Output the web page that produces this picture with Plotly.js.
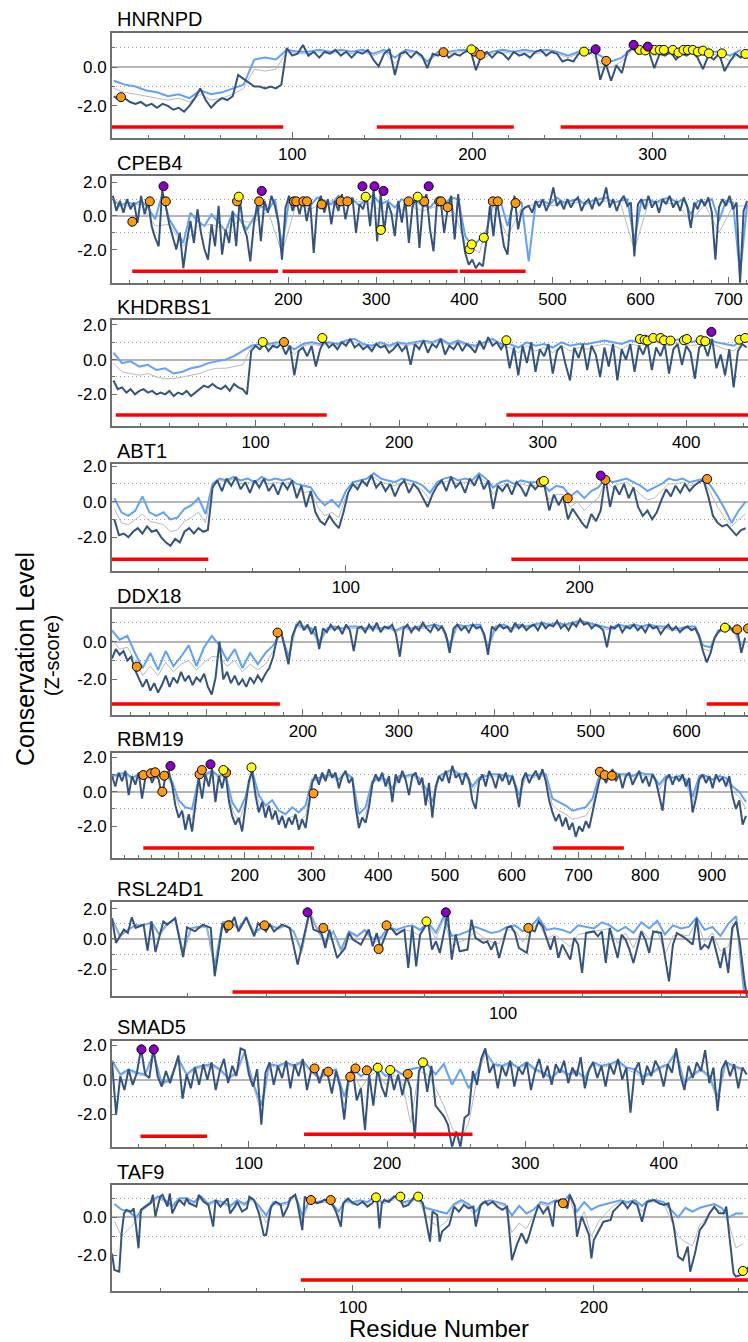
<!DOCTYPE html>
<html><head><meta charset="utf-8">
<script src="https://cdn.plot.ly/plotly-3.0.1.min.js"></script>
<style>html,body{margin:0;padding:0;background:#fff}#chart{width:748px;height:1342px}</style>
</head><body><div id="chart"></div>
<script>
// ================= DATA =================
const proteinNames = ['HNRNPD','CPEB4','KHDRBS1','ABT1','DDX18','RBM19','RSL24D1','SMAD5','TAF9'];
const residueRanges = [[0,353],[0,722],[0,443],[0,272],[1,664],[1,954],[1,162],[1,461],[0,264]];
const zRanges = [[-3.65,1.79],[-3.97,2.38],[-3.81,2.27],[-3.9,2.11],[-3.89,1.73],[-3.85,2.25],[-3.78,2.44],[-3.87,2.25],[-3.86,1.7]];
const xTickVals = [[100,200,300],[100,200,300,400,500,600,700],[100,200,300,400],[100,200],[100,200,300,400,500,600],[100,200,300,400,500,600,700,800,900],[100],[100,200,300,400],[100,200]];
const xTickText = [['100','200','300'],['','200','300','400','500','600','700'],['100','200','300','400'],['100','200'],['','200','300','400','500','600'],['','200','300','400','500','600','700','800','900'],['100'],['100','200','300','400'],['100','200']];
const yTickVals = [-2,0,2];
const yTickText = ['-2.0','0.0','2.0'];
// sampling of the series: [first residue, residue step]
const darkSampling  = [[1,3],[1,4],[1,3],[1,2],[1,4],[1,5],null,[1,3],null];
const lightSampling = [[1,6],[1,8],[1,6],[1,3],[1,8],[1,10],[1,2],[1,6],[1,3]];
const graySampling  = [[1,6],[1,16],[1,6],[1,3],[1,8],[1,10],[1,2],[1,6],[1,3]];

// ---- HNRNPD ----
const hnrnpdDark = [-1.5,-1.7,-1.6,-1.8,-1.9,-1.8,-2.0,-1.9,-2.1,-1.9,
 -2.0,-2.2,-2.1,-2.3,-2.0,-1.6,-1.1,-1.7,-2.1,-1.8,
 -1.6,-1.7,-1.5,-0.4,-0.6,-0.8,-1.0,-1.0,-1.1,-1.0,
 -1.1,-0.9,1.0,0.6,0.7,1.15,0.6,0.8,0.5,0.8,
 0.7,0.9,0.6,0.8,0.5,0.8,0.7,0.9,0.4,0.05,
 0.7,0.95,-0.4,0.7,0.8,0.5,0.8,0.6,-0.05,0.7,
 0.6,0.8,0.5,0.7,0.6,0.8,0.9,-0.15,0.6,0.8,
 0.5,0.8,0.7,0.4,0.8,0.6,0.7,0.5,0.8,0.9,
 0.6,0.8,0.7,0.3,0.4,0.3,0.7,0.8,0.7,0.9,
 -0.65,0.2,-0.7,0.1,-0.3,0.8,1.0,0.7,0.9,0.8,
 -0.05,0.7,0.6,0.8,0.4,0.7,0.6,0.8,0.5,-0.1,
 0.6,0.4,0.7,-0.2,0.3,0.7,0.5,0.8];
const hnrnpdLight = [-0.7,-0.9,-1.0,-1.2,-1.3,-1.5,-1.4,-1.6,-1.2,-1.4,
 -1.3,-1.1,-0.9,0.4,0.5,0.4,0.9,0.8,0.8,0.9,
 0.8,0.9,0.8,0.9,0.7,0.9,0.5,0.9,0.8,0.3,
 0.8,0.8,0.9,0.9,0.6,0.8,0.9,0.8,0.9,0.8,
 0.9,0.8,0.6,0.8,0.9,0.6,0.3,0.5,1.0,0.9,
 0.8,0.8,0.7,0.9,0.8,0.8,0.8,0.6,0.9];
const hnrnpdGray = [-1.1,-1.3,-1.4,-1.5,-1.6,-1.7,-1.6,-1.8,-1.4,-1.7,
 -1.6,-1.4,-1.1,-0.1,-0.2,-0.1,0.8,0.7,0.7,0.8,
 0.7,0.8,0.7,0.8,0.6,0.8,0.2,0.8,0.7,0.2,
 0.7,0.7,0.8,0.8,0.4,0.7,0.8,0.7,0.8,0.7,
 0.8,0.7,0.5,0.7,0.8,0.2,0.0,0.3,0.9,0.8,
 0.6,0.7,0.6,0.8,0.7,0.6,0.7,0.3,0.8];
const hnrnpdOrange = [[5,-1.55],[184,0.78],[201.3,0.81],[204.5,0.64],[274.3,0.33]];
const hnrnpdYellow = [[199.5,0.93],[262,0.81],[292.8,0.9],[296,0.87],[301.1,0.9],[304,0.9],[306.3,0.9],[311.3,0.9],[314.4,0.76],[317.2,0.9],[319.6,0.9],[322.4,0.9],[325.2,0.81],[328,0.86],[331.3,0.72],[338.5,0.72],[351.6,0.69]];
const hnrnpdPurple = [[268.4,0.93],[289.5,1.16],[297.4,1.07]];
const hnrnpdDomains = [[0,95,-3.09],[147,223,-3.09],[249,353,-3.09]];

// ---- CPEB4 ----
const cpeb4Dark = [1.2,0.3,0.9,0.2,1.0,0.4,0.8,-0.4,1.2,0.1,
 0.9,-0.6,-1.3,-1.8,1.5,0.6,-0.5,-1.2,-2.0,-1.0,
 -3.1,-1.5,-0.3,-1.6,0.4,-1.0,-2.0,-2.6,-0.5,-1.8,
 0.6,-2.3,-0.8,-1.6,0.3,-1.8,1.0,-0.6,-1.2,-2.7,
 -0.5,0.8,-1.5,0.9,0.2,1.2,0.6,-0.4,-2.6,0.5,
 1.2,0.3,0.9,0.1,1.1,-0.3,0.8,-2.2,0.6,1.2,
 0.2,1.0,-0.5,0.9,0.3,1.3,-0.2,0.8,1.1,-1.0,
 0.7,0.4,1.2,-0.6,1.6,-1.5,1.3,-0.9,0.8,0.2,
 -1.2,0.9,-0.4,1.0,-1.6,0.5,1.1,-1.9,0.7,1.3,
 -0.8,-2.1,0.9,1.0,-1.0,0.4,1.2,-1.4,1.3,-0.8,
 -2.2,-2.9,-2.6,-3.1,-2.8,-3.0,-1.5,0.6,-1.2,0.9,
 -0.5,-1.8,-2.3,0.2,1.2,-0.8,0.3,0.5,
 0.6,0.2,0.9,0.5,1.0,0.3,0.8,1.7,0.6,0.9,
 0.4,1.0,0.5,0.9,1.1,0.3,0.8,1.0,0.4,1.1,
 0.6,0.9,1.7,0.5,1.0,0.3,0.9,1.2,0.6,0.8,
 -2.4,0.7,1.0,0.4,1.2,0.5,0.9,0.2,1.0,0.7,
 1.2,0.5,0.9,0.3,1.1,0.6,-0.7,0.8,0.4,1.0,
 0.6,1.1,0.2,-2.6,0.5,1.0,0.6,1.2,0.4,0.8,
 -4.0,0.3,0.9];
const cpeb4Light = [1.0,0.6,0.8,0.7,0.9,0.5,-0.2,1.3,-0.2,-0.9,
 -1.6,0.2,-0.3,-0.6,0.1,-0.4,-0.9,0.2,-0.2,-0.8,
 -0.1,0.6,0.3,1.0,-1.8,0.9,0.8,1.0,0.6,1.1,
 0.9,0.7,1.2,0.9,1.0,0.6,1.1,1.2,0.7,0.9,
 0.5,1.0,0.8,0.9,0.6,0.5,1.0,0.7,1.1,1.0,
 -1.2,-1.8,-1.4,-0.9,0.8,0.9,-0.6,1.0,0.8,-2.7,
 0.8,0.9,0.7,1.1,0.8,0.9,1.0,0.7,0.9,1.0,
 1.1,0.8,0.9,1.0,-1.5,0.9,1.0,0.8,1.0,1.1,
 0.8,1.0,0.1,0.9,0.8,1.0,-0.3,0.9,0.8,-3.5,
 0.7];
const cpeb4Gray = [0.8,0.6,0.7,-0.6,-0.5,-1.8,-0.6,-0.5,-0.8,-0.3,
 -0.4,0.3,-2.2,0.7,0.4,0.8,1.0,0.8,0.9,0.3,
 0.1,0.6,0.3,0.6,0.7,-1.6,-2.2,0.6,-1.2,0.5,
 0.7,0.6,0.7,0.8,0.7,0.9,0.8,-2.0,0.8,0.8,
 0.7,-0.3,0.7,-1.0,0.6,0.6];
const cpeb4Orange = [[23.1,-0.34],[42.9,0.87],[61.1,0.87],[142,0.87],[167,0.87],[206.5,0.87],[209.2,0.87],[217.2,0.87],[221.3,0.87],[238,0.69],[259.6,0.87],[267.2,0.87],[336.7,0.87],[354.5,0.87],[371.6,0.87],[373.5,0.87],[381.1,0.52],[432.3,0.87],[438,0.87],[458.1,0.77]];
const cpeb4Yellow = [[143.9,1.15],[288,1.15],[305.2,-0.83],[347,1.15],[405.8,-1.98],[408.4,-1.69],[422.1,-1.29]];
const cpeb4Purple = [[58.5,1.77],[170,1.49],[284.3,1.77],[298,1.77],[308.2,1.49],[359.5,1.77]];
const cpeb4Domains = [[23,188.5,-3.29],[193.5,392.5,-3.29],[395,469.5,-3.29]];

// ---- KHDRBS1 ----
const khdrbs1Dark = [-1.2,-1.7,-1.6,-1.9,-1.7,-2.0,-1.8,-1.7,-1.9,-1.8,
 -2.0,-1.9,-2.0,-1.8,-2.1,-1.9,-2.0,-1.8,-2.1,-1.9,
 -1.7,-1.5,-1.6,-1.4,-1.6,-1.7,-1.5,-1.8,-1.4,-1.6,
 -1.7,-2.0,0.5,0.8,0.6,0.9,0.5,0.8,0.7,0.9,
 0.3,0.8,-0.9,0.5,0.7,0.2,0.8,-0.4,0.6,1.1,
 0.7,0.9,0.6,1.0,0.8,1.2,0.7,0.9,0.6,0.8,
 0.5,0.9,0.7,0.8,0.4,0.6,0.9,0.5,0.8,-0.3,
 0.9,0.6,1.1,0.4,0.9,0.7,1.2,0.3,0.8,0.6,
 1.0,0.5,0.9,0.7,0.4,1.1,0.6,1.3,0.8,1.0,
 0.6,1.0,-0.5,0.7,-0.9,0.8,-0.2,1.0,-0.7,0.6,
 0.2,0.9,-0.8,0.5,0.8,-0.3,-1.2,0.7,0.1,0.9,
 -0.6,0.8,0.3,-1.0,0.7,-0.4,0.9,-1.2,0.6,0.0,
 0.9,-0.7,0.8,0.3,1.0,-0.6,0.7,0.2,0.9,-0.8,
 0.6,0.9,-0.3,0.8,0.4,-1.1,0.7,0.9,0.2,1.2,
 -0.5,0.3,-0.9,0.6,-1.6,0.5,0.9,0.7];
const khdrbs1Light = [0.4,-0.2,-0.1,-0.4,-0.3,-0.6,-0.5,-0.8,-0.7,-0.5,
 -0.4,-0.2,-0.1,0.0,0.2,0.5,0.8,0.9,0.9,1.0,
 0.9,0.6,0.9,1.0,0.9,1.0,0.9,1.1,1.2,0.9,
 0.8,1.0,0.8,1.0,0.9,1.0,1.1,1.0,1.2,0.9,
 1.1,0.9,0.8,1.0,1.2,0.9,0.9,0.7,1.0,0.8,
 0.9,0.7,1.0,0.8,0.9,0.9,1.0,1.1,1.0,0.9,
 1.1,1.0,1.1,1.2,1.0,1.1,1.2,1.0,1.1,1.2,
 1.0,0.9,0.8,1.1];
const khdrbs1Gray = [-0.2,-0.7,-0.8,-0.9,-0.8,-1.0,-1.1,-1.1,-1.0,-0.9,
 -0.8,-0.6,-0.5,-0.5,-0.4,-0.3,0.7,0.8,0.8,0.9,
 0.8,0.3,0.8,0.9,0.8,0.9,0.8,1.0,1.0,0.8,
 0.7,0.9,0.7,0.9,0.8,0.9,1.0,0.9,1.1,0.8,
 1.0,0.8,0.7,0.9,1.1,0.8,0.7,0.4,0.8,0.5,
 0.7,0.4,0.8,0.5,0.7,0.6,0.8,0.9,0.8,0.6,
 0.9,0.8,0.9,1.0,0.8,0.9,1.0,0.8,0.9,1.0,
 0.8,0.6,0.5,0.9];
const khdrbs1Orange = [[119.8,1.02]];
const khdrbs1Yellow = [[105,1.02],[146.5,1.25],[274.7,1.12],[367.7,1.19],[371,1.15],[373,1.1],[377,1.25],[382,1.25],[384.5,1.12],[389,1.1],[398.4,1.12],[400.4,1.19],[410,1.12],[413.2,1.06],[437,1.15],[441,1.25]];
const khdrbs1Purple = [[417.5,1.6]];
const khdrbs1Domains = [[2.7,149.5,-3.19],[274.7,443,-3.19]];

// ---- ABT1 ----
const abt1Dark = [-1.0,-1.9,-1.8,-2.0,-1.7,-1.5,-1.8,-1.4,-1.7,-1.6,
 -2.0,-2.3,-2.5,-2.1,-2.3,-1.7,-1.5,-1.8,-1.5,-1.7,
 -1.6,0.8,1.2,0.6,1.3,0.9,1.4,0.7,1.1,0.5,
 1.2,0.8,1.3,0.6,1.0,0.4,1.1,0.7,1.2,0.2,
 0.9,-0.3,0.6,-0.6,-1.1,-1.3,-0.8,-1.2,-1.5,-0.6,
 0.5,1.0,0.7,1.2,0.9,1.5,0.8,1.1,0.6,1.0,
 0.3,0.9,1.2,0.5,1.0,0.7,0.2,-0.3,0.4,0.9,
 1.2,0.6,1.4,0.8,1.1,0.5,1.3,0.9,1.5,0.7,
 1.2,-0.4,0.9,0.6,1.0,0.4,1.1,0.8,0.3,1.0,
 0.7,1.0,0.9,-0.5,0.4,-0.2,0.3,-1.0,-0.4,-0.8,
 -1.2,-1.5,-0.7,-1.1,-0.5,1.4,-0.3,0.9,0.4,1.0,
 0.2,0.8,-0.3,-0.8,-0.5,-1.0,-0.6,0.1,0.7,0.3,
 0.9,0.5,1.0,0.6,0.9,1.1,1.2,0.3,-0.8,-1.2,
 -1.4,-1.3,-1.6,-1.9,-1.6,-1.5];
const abt1Light = [0.2,-0.6,-0.8,-0.5,0.3,-0.6,-0.8,-0.6,-1.0,-0.9,
 -0.4,-0.2,0.2,-0.7,1.0,1.3,1.2,1.4,1.2,1.3,
 1.1,1.4,1.2,1.3,1.2,1.3,1.0,0.9,0.8,0.2,
 -0.2,0.1,-0.3,0.6,1.1,1.2,1.3,1.6,1.3,1.2,
 1.1,1.3,1.2,1.1,0.9,0.5,1.1,1.3,1.4,1.2,
 1.3,1.2,1.6,1.3,0.8,1.1,1.2,1.0,1.2,1.1,
 1.1,1.1,0.6,0.9,0.8,0.3,0.6,0.2,0.6,0.8,
 1.3,1.1,1.2,1.3,1.1,0.9,0.6,0.8,1.0,1.3,
 1.2,1.3,1.1,1.2,1.3,0.9,0.3,-0.4,-1.2,-0.5,
 0.0];
const abt1Gray = [-0.4,-1.2,-1.3,-1.0,-0.7,-1.1,-1.2,-1.3,-1.7,-1.6,
 -1.1,-0.9,-0.6,-1.2,0.9,1.2,1.1,1.3,1.0,1.1,
 1.0,1.2,1.0,1.1,1.0,1.1,0.7,0.5,0.6,-0.3,
 -0.8,-0.6,-0.9,0.3,0.9,1.0,1.1,1.4,1.1,1.0,
 0.9,1.1,1.0,0.9,0.6,0.1,0.9,1.1,1.2,1.0,
 1.1,1.0,1.4,1.1,0.4,0.9,1.0,0.8,1.0,0.9,
 0.9,1.0,0.1,0.4,0.4,-0.3,0.0,-0.5,-0.1,0.2,
 1.2,0.8,1.0,1.1,0.8,0.4,0.1,0.2,0.6,1.0,
 1.0,1.1,0.9,1.0,1.2,0.5,-0.3,-0.9,-1.4,-1.0,
 -0.7];
const abt1Orange = [[183.5,1.09],[194.9,0.19],[211,1.23],[254.5,1.28]];
const abt1Yellow = [[184.7,1.17]];
const abt1Purple = [[209,1.47]];
const abt1Domains = [[0,41.2,-3.26],[170.8,272,-3.26]];

// ---- DDX18 ----
const ddx18Dark = [-0.9,-0.4,-0.7,-0.5,-1.0,-0.8,-1.5,-2.0,-2.4,-2.0,
 -2.6,-2.2,-2.7,-2.3,-1.8,-2.4,-1.9,-2.2,-1.6,-2.1,
 -1.8,-2.3,-1.9,-2.1,-1.7,-2.4,-2.8,-1.9,0.0,-2.0,
 -1.6,-2.2,-1.8,-2.3,-2.0,-2.4,-1.9,-2.2,-1.8,-2.1,
 -1.7,-1.4,-0.8,0.2,0.6,-0.3,-1.2,0.3,0.8,1.1,
 0.6,0.9,0.4,0.8,-0.4,0.7,0.5,0.9,0.6,0.8,
 0.4,0.9,0.6,-0.5,0.7,0.8,0.5,0.9,0.6,1.0,
 0.5,0.8,0.7,0.9,0.4,-0.8,0.7,0.9,0.5,0.8,
 0.6,1.0,0.7,0.5,0.9,0.6,0.8,0.4,-0.6,0.7,
 0.9,0.6,0.8,0.5,0.9,0.7,0.8,0.4,-0.7,0.8,
 0.6,0.9,0.7,0.8,0.5,1.0,0.7,0.9,0.6,0.8,
 0.9,0.6,1.0,0.7,0.9,0.8,1.1,0.7,0.9,0.6,
 1.0,0.8,1.2,0.9,1.0,0.7,0.9,0.8,0.6,-0.3,
 0.8,0.7,0.9,0.5,0.8,0.7,0.9,0.6,0.8,0.5,
 0.9,0.7,0.8,0.4,0.7,0.9,0.6,0.8,0.5,0.7,
 0.8,0.6,0.7,0.3,-0.5,-1.1,-0.6,0.2,0.5,0.7,
 0.6,0.8,0.5,0.6,-0.6,0.2];
const ddx18Light = [0.6,0.1,0.3,-0.6,-1.4,-0.6,-1.5,-0.5,-1.3,-0.8,
 -0.2,-1.3,-0.3,0.3,-0.2,-1.0,-0.4,-1.4,-0.6,-1.2,
 -0.6,-0.2,0.5,-0.8,0.9,0.8,0.7,0.0,0.7,0.8,
 0.7,0.8,0.8,0.7,0.8,0.7,0.8,0.6,0.8,0.7,
 0.8,0.8,0.9,0.8,-0.2,0.9,0.8,0.9,0.9,-0.3,
 0.8,0.9,0.7,0.9,0.8,0.9,1.0,0.9,1.0,0.9,
 1.0,1.1,1.0,0.9,0.8,0.7,0.9,0.8,0.9,0.8,
 0.9,0.8,0.8,0.7,0.7,0.8,0.8,-0.2,-0.3,0.6,
 0.7,0.7,-0.2];
const ddx18Gray = [0.1,-0.4,-0.3,-1.0,-1.8,-1.3,-1.8,-1.1,-1.6,-1.2,
 -1.0,-1.5,-1.1,-0.8,-0.8,-1.3,-1.0,-1.6,-1.2,-1.5,
 -1.2,-0.5,0.5,-1.0,0.8,0.7,0.6,-0.2,0.6,0.7,
 0.6,0.7,0.7,0.6,0.7,0.6,0.7,0.5,0.7,0.6,
 0.7,0.7,0.8,0.7,-0.4,0.8,0.7,0.8,0.8,-0.5,
 0.7,0.8,0.6,0.8,0.7,0.8,0.9,0.8,0.9,0.8,
 0.9,1.0,0.9,0.8,0.7,0.6,0.8,0.7,0.8,0.7,
 0.8,0.7,0.7,0.6,0.6,0.7,0.7,-0.4,-0.5,0.5,
 0.6,0.6,-0.4];
const ddx18Orange = [[26.9,-1.33],[173.6,0.48],[652.7,0.65],[664,0.7]];
const ddx18Yellow = [[640,0.74]];
const ddx18Purple = [];
const ddx18Domains = [[1,176,-3.31],[621,664,-3.31]];

// ---- RBM19 ----
const rbm19Dark = [0.9,0.3,1.1,0.6,1.2,-0.2,0.9,0.4,1.1,-0.4,
 0.8,1.2,0.5,1.0,0.7,-0.3,0.9,1.2,0.4,-0.8,
 -1.5,-1.1,-2.2,-1.3,-2.3,-0.6,0.8,-0.4,1.0,0.3,
 1.3,-0.6,0.9,0.2,1.1,-0.5,-1.4,-1.9,-1.5,-2.3,
 -0.9,0.6,1.2,-0.2,-1.2,-0.6,-1.5,-0.8,-1.6,-1.1,
 -1.9,-1.4,-2.1,-1.5,-1.9,-1.3,-2.2,-1.6,-2.1,-0.9,
 0.5,1.0,0.4,1.1,0.6,1.3,0.8,1.1,0.2,0.9,
 1.2,0.5,0.8,-0.9,-2.1,-1.5,-1.8,-0.9,0.4,1.0,
 0.6,1.1,0.3,0.9,-0.6,1.0,0.5,1.2,0.7,-0.2,
 0.9,1.1,0.4,0.8,-0.8,0.5,-1.5,0.3,0.9,0.6,
 1.2,0.5,1.5,0.8,1.0,0.4,1.1,0.7,-0.5,-1.0,
 0.6,1.0,0.3,1.2,0.8,0.2,1.0,0.6,1.1,0.4,
 0.9,0.2,-0.9,0.7,1.1,0.5,0.9,1.2,0.7,1.3,
 0.6,-0.5,-1.2,-1.7,-1.3,-2.0,-1.5,-2.2,-1.8,-2.6,
 -2.0,-2.3,-1.7,-2.1,-1.2,-0.4,0.6,1.1,0.5,0.9,
 1.3,0.6,1.0,0.2,0.9,1.1,0.4,0.8,1.2,0.5,
 0.9,0.3,1.0,0.6,-0.3,-1.1,0.7,1.0,0.4,0.9,
 0.6,1.0,0.3,0.8,-1.2,-0.4,0.7,1.0,0.5,0.9,
 0.2,1.0,0.6,0.8,0.3,0.9,-0.3,-1.0,-0.5,-1.9,
 -1.4];
const rbm19Light = [0.9,1.0,1.1,0.8,1.0,0.9,0.8,0.9,1.0,0.6,
 -0.5,-0.9,-1.0,0.8,1.0,1.2,0.9,1.0,-0.6,-1.2,
 -0.3,1.2,-0.2,-0.8,-0.5,-1.1,-1.3,-0.9,-1.2,-0.8,
 0.7,0.8,0.9,1.0,0.7,1.1,0.8,-1.3,-0.9,0.6,
 0.8,0.7,0.2,0.9,0.9,1.0,0.8,0.2,-0.6,0.9,
 1.1,1.3,1.0,1.0,0.3,0.8,0.9,1.0,1.0,0.9,
 0.9,-0.2,1.0,0.9,1.0,1.0,-0.4,-0.6,-0.8,-1.1,
 -1.0,-0.9,-0.4,0.9,0.9,1.2,1.0,1.0,0.9,1.1,
 1.0,1.0,0.4,0.9,0.8,0.9,0.7,-0.3,0.9,0.9,
 0.7,0.9,0.8,0.3,0.0,-0.6];
const rbm19Gray = [0.8,0.9,1.0,0.7,0.9,0.8,0.7,0.8,0.9,0.4,
 -0.8,-1.5,-1.6,0.7,0.9,1.1,0.8,0.9,-1.0,-1.8,
 -0.6,1.1,-0.6,-1.1,-1.0,-1.5,-1.7,-1.4,-1.7,-1.4,
 0.6,0.7,0.8,0.9,0.5,1.0,0.7,-1.7,-1.3,0.5,
 0.7,0.5,-0.1,0.8,0.8,0.9,0.6,-0.2,-1.0,0.8,
 1.0,1.2,0.9,0.9,0.0,0.7,0.7,0.9,0.9,0.8,
 0.8,-0.5,0.9,0.8,0.9,0.9,-0.8,-1.1,-1.3,-1.6,
 -1.5,-1.4,-0.8,0.8,0.8,1.1,0.9,0.9,0.7,1.0,
 0.9,0.9,0.1,0.8,0.6,0.8,0.5,-0.7,0.8,0.8,
 0.5,0.8,0.6,0.0,-0.3,-1.0];
const rbm19Orange = [[47.9,0.96],[59.3,1.06],[65.7,1.12],[79.3,0.92],[76.4,0.0],[132.1,1.0],[135.7,1.25],[172,1.1],[302.9,-0.1],[732,1.15],[739.3,0.96],[750,0.92]];
const rbm19Yellow = [[167.9,1.25],[210,1.4]];
const rbm19Purple = [[88.6,1.48],[148.6,1.58]];
const rbm19Domains = [[47.9,303.6,-3.25],[662,768,-3.25]];

// ---- RSL24D1 ----
const rsl24d1DarkRes = [1,2,4,5,6,7,9,10,11,12,14,15,17,19,20,22,24,26,27,29,30,32,33,34,35,37,38,40,41,42,44,46,48,51,52,54,55,56,58,60,61,62,64,66,67,68,69,71,72,73,75,76,77,78,79,81,82,83,84,86,87,88,89,91,92,93,95,96,97,98,99,101,102,103,104,106,107,108,109,110,112,113,114,115,117,118,119,120,121,123,124,125,126,127,129,130,131,132,133,135,136,137,138,140,142,143,144,146,147,148,149,150,151,152,153,155,156,157,158,159,160,161,162];
const rsl24d1Dark = [1.38,-0.26,0.62,0.4,1.43,0.73,0.95,-0.77,1.16,-0.86,
 1.16,0.95,1.38,-1.19,0.77,0.5,0.95,0.73,-2.46,1.05,
 0.4,1.45,0.5,0.95,1.43,0.18,1.05,0.5,0.95,0.5,
 0.95,0.73,-1.69,1.82,0.62,0.4,-0.59,0.62,-1.25,-0.59,
 0.4,-0.04,-0.37,0.62,-0.48,0.4,-0.59,0.73,0.62,0.29,
 0.62,-1.91,0.84,-1.8,0.29,1.16,-0.7,-0.15,-0.92,1.71,
 -1.36,0.29,-0.81,-0.7,1.27,0.07,-0.26,-0.15,-0.7,-0.15,
 -1.25,0.73,0.84,0.4,-0.59,-0.92,0.62,0.5,1.16,0.84,
 -0.7,0.18,-1.25,-0.37,-1.36,0.07,-0.37,-2.24,0.4,0.5,
 0.18,0.5,-1.58,0.73,-1.25,0.29,-0.04,-0.7,-1.58,0.5,
 -0.04,-0.92,0.5,0.4,-2.79,-0.37,0.4,0.07,-0.15,-0.37,
 1.38,-0.7,-0.37,-0.59,0.18,-1.91,-0.59,-2.24,0.73,1.16,
 -0.37,-2.57,-4.3];
const rsl24d1Light = [1.3,0.2,0.6,0.9,0.9,1.1,0.3,1.0,1.3,-0.9,
 0.7,0.8,0.8,-1.8,1.1,1.2,0.7,1.4,0.4,0.8,
 0.9,0.7,0.9,0.5,-0.8,1.8,0.6,-0.2,0.5,-0.7,
 0.5,0.2,0.6,0.0,0.1,0.8,0.6,0.8,0.9,0.6,
 1.1,0.4,1.5,0.2,0.3,0.5,0.8,0.6,0.4,0.5,
 0.8,0.9,0.5,0.8,1.4,0.6,0.7,0.6,0.4,0.9,
 0.8,0.7,1.1,0.9,0.5,0.8,0.4,1.1,0.7,1.2,
 0.3,0.9,0.7,0.8,1.4,0.6,0.8,0.2,1.0,1.5,
 -3.5];
const rsl24d1Gray = [1.3,0.1,0.6,0.8,0.9,1.0,0.2,1.0,1.3,-1.0,
 0.7,0.7,0.8,-2.0,1.1,1.1,0.6,1.4,0.3,0.7,
 0.9,0.6,0.9,0.4,-1.0,1.8,0.6,-0.3,0.4,-0.9,
 0.4,0.1,0.5,-0.2,-0.1,0.7,0.5,0.6,0.5,0.2,
 1.0,0.0,1.3,-0.5,-0.2,0.0,0.5,0.1,-0.2,-0.3,
 0.6,0.6,-0.2,0.6,1.1,0.0,0.3,-0.1,-0.5,0.3,
 0.4,0.5,0.6,0.7,-0.3,0.4,-0.6,0.6,0.0,0.6,
 -1.0,0.2,0.3,0.2,1.2,-0.2,0.4,-0.8,-0.5,1.2,
 -3.0];
const rsl24d1Orange = [[30.5,0.9],[39.6,0.9],[54.5,0.73],[68.5,-0.66],[70.5,0.9],[106.4,0.73]];
const rsl24d1Yellow = [[80.6,1.16]];
const rsl24d1Purple = [[50.5,1.76],[85.5,1.76]];
const rsl24d1Domains = [[31.5,162,-3.49]];

// ---- SMAD5 ----
const smad5Dark = [1.0,-2.0,0.2,-0.6,0.6,-0.3,0.4,1.8,0.3,0.1,
 1.8,0.2,-0.4,0.5,-0.2,0.6,1.4,-1.1,0.3,-0.5,
 0.7,-0.3,0.9,0.0,1.0,-0.6,0.5,1.2,-0.2,0.8,
 0.2,1.8,1.7,0.3,-0.4,0.6,-2.6,0.4,1.0,-0.3,
 0.8,0.1,1.1,-0.5,0.9,0.2,1.2,-0.6,0.5,0.7,
 -0.2,0.6,0.3,-0.8,0.5,-0.4,-2.3,0.2,0.6,-1.2,
 -0.5,-2.9,0.3,-1.5,0.6,-0.4,-1.0,0.5,-0.6,0.3,
 -0.9,0.2,-0.5,-3.4,0.5,0.9,-0.7,0.8,-1.5,-1.8,
 -2.1,-2.6,-3.9,-3.0,-3.9,-2.2,-2.0,0.5,-0.3,1.2,
 1.8,0.4,0.9,-0.5,0.8,0.2,1.1,-0.4,0.7,0.3,
 1.0,-0.6,0.5,1.2,0.1,0.8,-0.3,0.9,0.4,1.1,
 -0.2,0.7,0.2,1.3,-0.5,0.6,1.0,0.1,0.8,-0.4,
 0.9,0.3,1.2,0.0,0.7,-1.9,0.5,1.0,-0.3,0.8,
 0.2,1.1,0.6,-0.4,0.9,0.4,1.8,0.3,-0.6,0.8,
 0.1,1.0,0.5,1.7,-0.2,0.7,-1.8,0.6,1.1,0.2,
 0.9,-0.5,0.7,0.3];
const smad5Light = [1.1,0.3,0.6,0.4,0.3,1.5,-0.2,0.0,1.2,0.3,
 0.7,0.8,0.9,0.6,0.1,0.4,1.6,-0.2,-1.5,0.9,
 0.8,1.0,0.8,1.1,0.5,0.1,0.4,0.6,-1.0,0.7,
 0.2,0.5,0.7,0.2,0.6,0.3,0.6,0.7,0.9,0.3,
 0.9,-0.3,0.6,-0.5,0.4,1.6,0.9,0.8,1.0,0.7,
 1.0,0.6,0.4,0.1,0.6,0.3,0.5,0.1,1.0,0.8,
 0.9,1.1,0.7,0.6,0.2,0.4,0.7,0.9,1.6,-0.2,
 0.3,0.6,0.2,-1.0,1.0,0.8,0.6];
const smad5Gray = [1.0,0.2,0.5,0.3,0.2,1.4,-0.3,-0.1,1.1,0.2,
 0.6,0.7,0.8,0.5,0.0,0.3,1.5,-0.3,-2.0,0.8,
 0.7,0.9,0.7,1.0,0.4,0.0,0.3,0.4,-1.5,0.5,
 -0.5,0.2,0.5,-0.3,0.3,-0.2,-2.5,0.5,0.3,-0.5,
 -1.5,-2.8,-3.5,-2.5,0.0,1.6,0.8,0.7,0.9,0.6,
 0.9,0.5,0.3,0.0,0.5,0.2,0.4,0.0,0.9,0.7,
 0.8,1.0,0.6,0.4,0.1,0.3,0.6,0.8,1.5,-0.3,
 0.2,0.5,0.1,-1.3,0.9,0.7,0.5];
const smad5Orange = [[147.5,0.65],[157.4,0.46],[173.3,0.17],[177.1,0.65],[185.3,0.54],[214.9,0.33]];
const smad5Yellow = [[193.2,0.69],[202.2,0.56],[225.9,1.0]];
const smad5Purple = [[22.3,1.75],[31.2,1.75]];
const smad5Domains = [[21.6,69.7,-3.27],[139.9,261.7,-3.15]];

// ---- TAF9 ----
const taf9DarkRes = [0,1,3,4,5,6,8,9,10,11, 12,14,16,17,18,20,21,23,24,25, 27,28,30,31,32,35,36,38,40,42,
 43,45,48,49,51,52,54,56,57,59, 61,63,64,66,68,70,71,73,74,76, 77,79,80,82,83,85,87,88,90,92,
 93,95,96,98,100,102,104,106,108,110, 111,112,113,115,117,119,121,123,125,127, 129,132,133,135,136,137,140,142,144,146,
 148,150,151,153,155,156,158,160,162,164, 165,166,168,170,172,173,175,177,179,181, 183,184,186,189,190,192,193,195,198,199,
 200,202,204,207,208,210,212,214,216,218, 220,222,225,227,229,231,233,235,237,239, 240,242,244,246,248,250,252,254,255,256,
 258,259,261,263,264];
const taf9Dark = [-1.9,-2.77,-2.86,-0.84,0.21,0.39,0.30,0.47,-0.49,-1.63,
 0.39,0.56,0.74,1.18,0.04,1.09,1.18,0.56,1.26,0.21,
 0.74,0.91,0.65,1.00,0.74,0.56,1.18,0.82,0.65,-0.49,
 0.91,0.56,1.00,0.21,0.56,0.82,0.30,0.47,1.09,0.91,
 0.21,-0.93,-0.93,0.56,0.82,0.65,0.04,0.56,1.00,1.18,
 0.74,-0.67,1.09,0.82,0.91,0.74,0.82,0.91,0.91,0.56,
 0.30,-0.49,0.74,1.00,0.74,0.65,0.82,0.56,0.74,1.09,
 -0.58,0.74,0.91,0.82,1.09,1.09,0.56,0.65,1.00,1.09,
 0.74,-1.28,0.30,0.12,-1.28,-0.75,-0.40,0.56,0.30,0.65,
 0.47,0.56,-0.49,0.65,0.82,0.65,0.82,0.56,0.39,0.56,
 -0.67,-2.25,-1.46,-0.84,-1.37,-1.02,-0.14,0.65,0.21,0.56,
 -0.49,0.82,0.91,0.47,1.18,0.65,-1.02,0.04,-0.93,-2.16,
 -1.19,-0.67,-0.23,-0.14,0.30,0.56,0.82,0.47,0.82,0.65,
 -0.23,0.82,0.91,0.74,0.65,0.74,-0.32,-2.07,-2.25,-1.54,
 -2.86,-1.89,-0.67,-0.32,0.21,0.56,0.21,0.21,0.56,-0.67,
 -2.95,-3.12,-3.03,-2.95,-2.60];
const taf9Light = [0.7,0.4,0.3,0.0,0.5,0.8,1.1,0.9,0.6,1.0,
 1.0,0.8,1.1,0.7,0.9,0.8,0.6,0.9,0.7,1.0,
 0.6,0.1,0.8,0.7,0.8,1.2,0.1,0.9,0.8,0.9,
 0.8,0.3,0.9,0.8,0.9,0.8,1.1,0.8,0.9,1.1,
 0.8,0.9,1.1,0.5,0.4,0.3,0.2,0.7,0.9,0.7,
 0.3,0.8,0.9,0.8,0.7,0.1,0.6,0.2,0.4,0.8,
 0.7,0.9,0.8,1.2,0.3,0.8,0.4,0.6,0.7,0.8,
 0.9,0.8,0.9,0.6,0.9,0.9,0.8,0.4,0.0,0.5,
 0.3,0.5,0.6,0.7,0.5,0.0,0.2,0.2];
const taf9Gray = [-0.2,-1.0,-0.6,-0.2,0.4,0.7,1.0,0.8,0.5,0.9,
 0.9,0.7,1.0,0.6,0.8,0.7,0.5,0.8,0.6,0.9,
 0.5,-0.3,0.7,0.6,0.7,1.1,-0.2,0.8,0.7,0.8,
 0.7,0.0,0.8,0.7,0.8,0.7,1.0,0.7,0.8,1.0,
 0.7,0.8,1.0,0.2,-0.3,-0.5,-0.2,0.6,0.8,0.6,
 0.0,0.7,0.8,0.7,0.6,-0.8,-0.3,-0.6,0.1,0.7,
 0.6,0.8,0.7,1.1,-0.4,0.3,-1.0,-0.2,0.2,0.6,
 0.8,0.7,0.8,0.3,0.8,0.8,0.7,-0.1,-1.0,-1.3,
 -1.5,-0.4,0.0,0.5,0.3,-0.3,-1.6,-1.4];
const taf9Orange = [[82.6,0.91],[90.8,0.91],[187.2,0.74]];
const taf9Yellow = [[109.6,1.05],[119.7,1.09],[127.1,1.09],[261.9,-2.82]];
const taf9Purple = [];
const taf9Domains = [[78.4,264,-3.3]];

// ================= BUILD =================
const panels = [
 {dark:hnrnpdDark, light:hnrnpdLight, gray:hnrnpdGray, orange:hnrnpdOrange, yellow:hnrnpdYellow, purple:hnrnpdPurple, domains:hnrnpdDomains},
 {dark:cpeb4Dark, light:cpeb4Light, gray:cpeb4Gray, orange:cpeb4Orange, yellow:cpeb4Yellow, purple:cpeb4Purple, domains:cpeb4Domains},
 {dark:khdrbs1Dark, light:khdrbs1Light, gray:khdrbs1Gray, orange:khdrbs1Orange, yellow:khdrbs1Yellow, purple:khdrbs1Purple, domains:khdrbs1Domains},
 {dark:abt1Dark, light:abt1Light, gray:abt1Gray, orange:abt1Orange, yellow:abt1Yellow, purple:abt1Purple, domains:abt1Domains},
 {dark:ddx18Dark, light:ddx18Light, gray:ddx18Gray, orange:ddx18Orange, yellow:ddx18Yellow, purple:ddx18Purple, domains:ddx18Domains},
 {dark:rbm19Dark, light:rbm19Light, gray:rbm19Gray, orange:rbm19Orange, yellow:rbm19Yellow, purple:rbm19Purple, domains:rbm19Domains},
 {dark:rsl24d1Dark, darkRes:rsl24d1DarkRes, light:rsl24d1Light, gray:rsl24d1Gray, orange:rsl24d1Orange, yellow:rsl24d1Yellow, purple:rsl24d1Purple, domains:rsl24d1Domains},
 {dark:smad5Dark, light:smad5Light, gray:smad5Gray, orange:smad5Orange, yellow:smad5Yellow, purple:smad5Purple, domains:smad5Domains},
 {dark:taf9Dark, darkRes:taf9DarkRes, light:taf9Light, gray:taf9Gray, orange:taf9Orange, yellow:taf9Yellow, purple:taf9Purple, domains:taf9Domains}
];

// ---- styles / geometry ----
const W = 748, H = 1342;
const FONT = 'Liberation Sans, Arial, Helvetica, sans-serif';
const FRAME = '#6e6e6e';
const C_DARK = '#34547f', C_LIGHT = '#62a2f6', C_GRAY = '#b9b9b9';
const C_ORANGE = '#ff9a0a', C_YELLOW = '#ffff00', C_PURPLE = '#8a00c8', C_RED = '#ff0000';
const panelTopPx = [32.7,176,320.3,464.3,609,752.7,902,1040.7,1185];
const panelBottomPx = [137.7,282.7,425.7,570.7,715,858.3,996.3,1146.7,1290.7];
const xLeftPx = 112;

const traces = [];
const layout = {
  width: W, height: H, margin: {l:0, r:0, t:0, b:0},
  paper_bgcolor: '#fff', plot_bgcolor: '#fff', showlegend: false,
  font: {family: FONT, color: '#000'}, annotations: []
};

function pts(list, k) { return list.map(p => p[k]); }

panels.forEach((p, i) => {
  const sfx = i === 0 ? '' : String(i + 1);
  const xa = 'x' + sfx, ya = 'y' + sfx;
  traces.push({type:'scatter', mode:'lines', x0:lightSampling[i][0], dx:lightSampling[i][1], y:p.light,
    xaxis:xa, yaxis:ya, line:{color:C_LIGHT, width:2}, hoverinfo:'skip'});
  traces.push({type:'scatter', mode:'lines', x0:graySampling[i][0], dx:graySampling[i][1], y:p.gray,
    xaxis:xa, yaxis:ya, line:{color:C_GRAY, width:1}, hoverinfo:'skip'});
  const dk = {type:'scatter', mode:'lines', y:p.dark, xaxis:xa, yaxis:ya, line:{color:C_DARK, width:2}, hoverinfo:'skip'};
  if (p.darkRes) { dk.x = p.darkRes; } else { dk.x0 = darkSampling[i][0]; dk.dx = darkSampling[i][1]; }
  traces.push(dk);
  const dx = [], dy = [];
  p.domains.forEach(d => { dx.push(d[0], d[1], null); dy.push(d[2], d[2], null); });
  traces.push({type:'scatter', mode:'lines', x:dx, y:dy, xaxis:xa, yaxis:ya, line:{color:C_RED, width:3.5}, hoverinfo:'skip'});
  [[p.orange, C_ORANGE], [p.yellow, C_YELLOW], [p.purple, C_PURPLE]].forEach(([list, col]) => {
    if (!list.length) return;
    traces.push({type:'scatter', mode:'markers', x:pts(list,0), y:pts(list,1), xaxis:xa, yaxis:ya,
      marker:{color:col, size:9, line:{color:'#000', width:1}}, hoverinfo:'skip'});
  });

  const top = 1 - panelTopPx[i] / H, bot = 1 - panelBottomPx[i] / H;
  layout['xaxis' + sfx] = {
    domain:[xLeftPx / W, 1], range:residueRanges[i], anchor:ya,
    showline:true, mirror:true, linecolor:FRAME, linewidth:2,
    ticks:'inside', ticklen:6, tickwidth:1, tickcolor:FRAME,
    tickmode:'array', tickvals:xTickVals[i], ticktext:xTickText[i],
    tickfont:{size:17, family:FONT, color:'#000'},
    showgrid:false, zeroline:false, fixedrange:true,
    minor:{tickmode:'linear', tick0:0, dtick:20, ticks:'inside', ticklen:3, tickcolor:FRAME, showgrid:false}
  };
  layout['yaxis' + sfx] = {
    domain:[bot, top], range:zRanges[i], anchor:xa,
    showline:true, linecolor:FRAME, linewidth:2,
    ticks:'inside', ticklen:5, tickwidth:1, tickcolor:FRAME,
    tickmode:'array', tickvals:yTickVals, ticktext:yTickText,
    tickfont:{size:17, family:FONT, color:'#000'},
    showgrid:false, zeroline:true, zerolinecolor:'#b5b5b5', zerolinewidth:2, fixedrange:true,
    minor:{tickmode:'array', tickvals:[-1,1], ticks:'inside', ticklen:3, tickcolor:FRAME,
      showgrid:true, gridcolor:'#a0a0a0', griddash:'1px,3px', gridwidth:1}
  };
  layout.annotations.push({xref:'paper', yref:'paper', x:115 / W, y:1 - (panelTopPx[i] - 13.4) / H,
    xanchor:'left', yanchor:'middle', showarrow:false, text:proteinNames[i],
    font:{size:20, family:FONT, color:'#000'}});
});

layout.annotations.push({xref:'paper', yref:'paper', x:25 / W, y:1 - 659 / H, xanchor:'center', yanchor:'middle',
  showarrow:false, textangle:-90, text:'Conservation Level', font:{size:25, family:FONT, color:'#000'}});
layout.annotations.push({xref:'paper', yref:'paper', x:52 / W, y:1 - 656 / H, xanchor:'center', yanchor:'middle',
  showarrow:false, textangle:-90, text:'(Z-score)', font:{size:20, family:FONT, color:'#000'}});
layout.annotations.push({xref:'paper', yref:'paper', x:439 / W, y:1 - 1328 / H, xanchor:'center', yanchor:'middle',
  showarrow:false, text:'Residue Number', font:{size:24, family:FONT, color:'#000'}});

Plotly.newPlot('chart', traces, layout, {staticPlot:true, displayModeBar:false});
</script>
</body></html>
